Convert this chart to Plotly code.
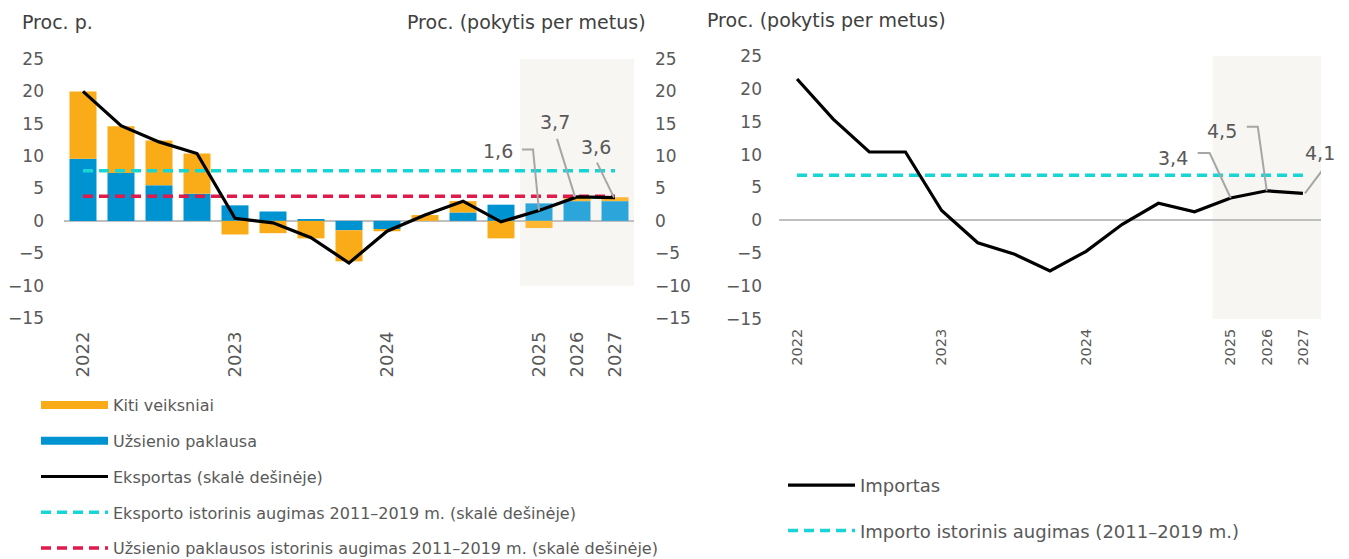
import plotly.graph_objects as go

# ---------------- data ----------------
categories = ["2022 K1", "2022 K2", "2022 K3", "2022 K4",
              "2023 K1", "2023 K2", "2023 K3", "2023 K4",
              "2024 K1", "2024 K2", "2024 K3", "2024 K4",
              "2025", "2026", "2027"]
tick_vals = ["2022 K1", "2023 K1", "2024 K1", "2025", "2026", "2027"]
tick_text = ["2022", "2023", "2024", "2025", "2026", "2027"]

foreign_demand = [9.6, 7.4, 5.5, 4.2, 2.4, 1.45, 0.25, -1.45, -1.25, 0.0, 1.3, 2.5, 2.7, 3.05, 3.05]
other_factors = [10.4, 7.2, 6.9, 6.2, -2.1, -1.9, -2.7, -4.8, -0.35, 0.9, 1.75, -2.7, -1.1, 0.5, 0.6]
exports = [20.0, 14.7, 12.2, 10.4, 0.4, -0.3, -2.6, -6.5, -1.6, 0.9, 3.05, -0.15, 1.6, 3.7, 3.6]
export_hist = 7.75
demand_hist = 3.8

imports = [21.5, 15.4, 10.4, 10.4, 1.5, -3.4, -5.1, -7.7, -4.7, -0.6, 2.6, 1.3, 3.4, 4.5, 4.1]
import_hist = 6.85

labeled_idx = [12, 13, 14]

# ---------------- style ----------------
FONT = "DejaVu Sans"
GREY_TXT = "#595959"
BLUE = "#0093D1"
BLUE_F = "#2CA5DA"
ORANGE = "#FAAC18"
ORANGE_F = "#FDB733"
CYAN = "#17D5D5"
RED = "#E01B4C"
SHADE = "#F7F6F3"
LEADER = "#A6A6A6"

# page body has an 8px default margin: size the figure to the remaining viewport
OFF = 8
W, H = 1349 - OFF, 559 - OFF
def px_x(p): return (p - OFF) / W
def px_y(p): return 1 - (p - OFF) / H

n = len(categories)
n_hist = 12
blue_cols = [BLUE] * n_hist + [BLUE_F] * (n - n_hist)
orange_cols = [ORANGE] * n_hist + [ORANGE_F] * (n - n_hist)

fig = go.Figure()

fig.add_trace(go.Bar(x=categories, y=foreign_demand, name="Užsienio paklausa",
                     marker=dict(color=blue_cols, line_width=0), width=0.71,
                     xaxis="x", yaxis="y", showlegend=False, legendgroup="a2"))
fig.add_trace(go.Bar(x=categories, y=other_factors, name="Kiti veiksniai",
                     marker=dict(color=orange_cols, line_width=0), width=0.71,
                     xaxis="x", yaxis="y", showlegend=False, legendgroup="a1"))
# legend entries for the bar series drawn as thick strokes (as in the reference)
fig.add_trace(go.Scatter(x=[None], y=[None], mode="lines", name="Kiti veiksniai",
                         line=dict(color=ORANGE, width=8), xaxis="x", yaxis="y",
                         legend="legend", legendrank=1, legendgroup="a1", hoverinfo="skip"))
fig.add_trace(go.Scatter(x=[None], y=[None], mode="lines", name="Užsienio paklausa",
                         line=dict(color=BLUE, width=8), xaxis="x", yaxis="y",
                         legend="legend", legendrank=2, legendgroup="a2", hoverinfo="skip"))
fig.add_trace(go.Scatter(x=categories, y=[export_hist] * n, mode="lines",
                         name="Eksporto istorinis augimas 2011–2019 m. (skalė dešinėje)",
                         line=dict(color=CYAN, width=3.5, dash="10px,6px"),
                         xaxis="x", yaxis="y2", legend="legend", legendrank=4,
                         legendgroup="a4"))
fig.add_trace(go.Scatter(x=categories, y=[demand_hist] * n, mode="lines",
                         name="Užsienio paklausos istorinis augimas 2011–2019 m. (skalė dešinėje)",
                         line=dict(color=RED, width=3.5, dash="10px,6px"),
                         xaxis="x", yaxis="y2", legend="legend", legendrank=5,
                         legendgroup="a5"))
fig.add_trace(go.Scatter(x=categories, y=exports, mode="lines",
                         name="Eksportas (skalė dešinėje)",
                         line=dict(color="black", width=3.2),
                         xaxis="x", yaxis="y2", legend="legend", legendrank=3,
                         legendgroup="a3"))

fig.add_trace(go.Scatter(x=categories, y=[import_hist] * n, mode="lines",
                         name="Importo istorinis augimas (2011–2019 m.)",
                         line=dict(color=CYAN, width=3.5, dash="10px,6px"),
                         xaxis="x2", yaxis="y3", legend="legend2", legendrank=2,
                         legendgroup="b2"))
fig.add_trace(go.Scatter(x=categories, y=imports, mode="lines",
                         name="Importas",
                         line=dict(color="black", width=3.2),
                         xaxis="x2", yaxis="y3", legend="legend2", legendrank=1,
                         legendgroup="b1"))

# forecast shading
shapes = [
    dict(type="rect", xref="x", yref="y", x0=11.5, x1=14.5, y0=-10, y1=25,
         fillcolor=SHADE, line_width=0, layer="below"),
    dict(type="rect", xref="x2", yref="y3", x0=11.5, x1=14.5, y0=-15, y1=25,
         fillcolor=SHADE, line_width=0, layer="below"),
]

# leader lines (pixel offsets relative to the labelled point)
left_leaders = ["M0,0 L-6,61 L-17,61", "M-2,0 L-20,58", "M-1,0 L-18,35"]
left_text_off = [(-41, 60), (-22, 75), (-19, 51)]
right_leaders = ["M0,0 L-21,45 L-33,45", "M0,0 L-9,64 L-20,64", "M2,0 L20,24"]
right_text_off = [(-58, 40), (-45, 60), (17, 40)]

annotations = []
def fmt(v):
    return f"{v:.1f}".replace(".", ",")

for k, i in enumerate(labeled_idx):
    shapes.append(dict(type="path", xref="x", yref="y2", xsizemode="pixel", ysizemode="pixel",
                       xanchor=i, yanchor=exports[i], path=left_leaders[k],
                       line=dict(color=LEADER, width=2), layer="above"))
    annotations.append(dict(x=i, y=exports[i], xref="x", yref="y2",
                            text=fmt(exports[i]), showarrow=False,
                            xshift=left_text_off[k][0], yshift=left_text_off[k][1],
                            font=dict(size=19, color=GREY_TXT, family=FONT)))
    shapes.append(dict(type="path", xref="x2", yref="y3", xsizemode="pixel", ysizemode="pixel",
                       xanchor=i, yanchor=imports[i], path=right_leaders[k],
                       line=dict(color=LEADER, width=2), layer="above"))
    annotations.append(dict(x=i, y=imports[i], xref="x2", yref="y3",
                            text=fmt(imports[i]), showarrow=False,
                            xshift=right_text_off[k][0], yshift=right_text_off[k][1],
                            font=dict(size=19, color=GREY_TXT, family=FONT)))

# axis titles
annotations += [
    dict(text="Proc. p.", xref="paper", yref="paper", x=px_x(20), y=px_y(22),
         xanchor="left", yanchor="middle", showarrow=False,
         font=dict(size=19, color="#404040", family=FONT)),
    dict(text="Proc. (pokytis per metus)", xref="paper", yref="paper", x=px_x(648), y=px_y(22),
         xanchor="right", yanchor="middle", showarrow=False,
         font=dict(size=19, color="#404040", family=FONT)),
    dict(text="Proc. (pokytis per metus)", xref="paper", yref="paper", x=px_x(705), y=px_y(20),
         xanchor="left", yanchor="middle", showarrow=False,
         font=dict(size=19, color="#404040", family=FONT)),
]

yax_common = dict(range=[-15, 25], tick0=0, dtick=5, showgrid=False, showline=False,
                  ticks="", automargin=False,
                  tickfont=dict(size=17, color=GREY_TXT, family=FONT))
xax_common = dict(type="category", categoryorder="array", categoryarray=categories,
                  range=[-0.5, 14.5], tickmode="array", tickvals=tick_vals, ticktext=tick_text,
                  tickangle=-90, showgrid=False, showline=False, ticks="", zeroline=False,
                  automargin=False)

fig.update_layout(
    width=W, height=H,
    margin=dict(l=0, r=0, t=0, b=0, autoexpand=False),
    paper_bgcolor="white", plot_bgcolor="rgba(0,0,0,0)",
    font=dict(family=FONT, color=GREY_TXT),
    barmode="relative",
    xaxis=dict(domain=[px_x(64), px_x(634)], anchor="y",
               tickfont=dict(size=18, color=GREY_TXT, family=FONT), ticklabelstandoff=9,
               **xax_common),
    yaxis=dict(domain=[px_y(318), px_y(59)], anchor="x", zeroline=True,
               zerolinecolor="#BFBFBF", zerolinewidth=1.5, ticklabelstandoff=19, **yax_common),
    yaxis2=dict(overlaying="y", side="right", anchor="x", zeroline=False,
                ticklabelstandoff=20, **yax_common),
    xaxis2=dict(domain=[px_x(779), px_x(1321)], anchor="y3",
                tickfont=dict(size=14.5, color=GREY_TXT, family=FONT), ticklabelstandoff=6,
                **xax_common),
    yaxis3=dict(domain=[px_y(319), px_y(56)], anchor="x2", zeroline=True,
                zerolinecolor="#BFBFBF", zerolinewidth=1.5, ticklabelstandoff=16, **yax_common),
    legend=dict(x=px_x(36), y=px_y(388), xanchor="left", yanchor="top",
                orientation="v", bgcolor="rgba(0,0,0,0)", itemwidth=67,
                tracegroupgap=12, font=dict(size=16, color=GREY_TXT, family=FONT)),
    legend2=dict(x=px_x(783), y=px_y(467), xanchor="left", yanchor="top",
                 orientation="v", bgcolor="rgba(0,0,0,0)", itemwidth=67,
                 tracegroupgap=19, font=dict(size=18, color=GREY_TXT, family=FONT)),
    shapes=shapes,
    annotations=annotations,
)

fig.write_html("out.html")
